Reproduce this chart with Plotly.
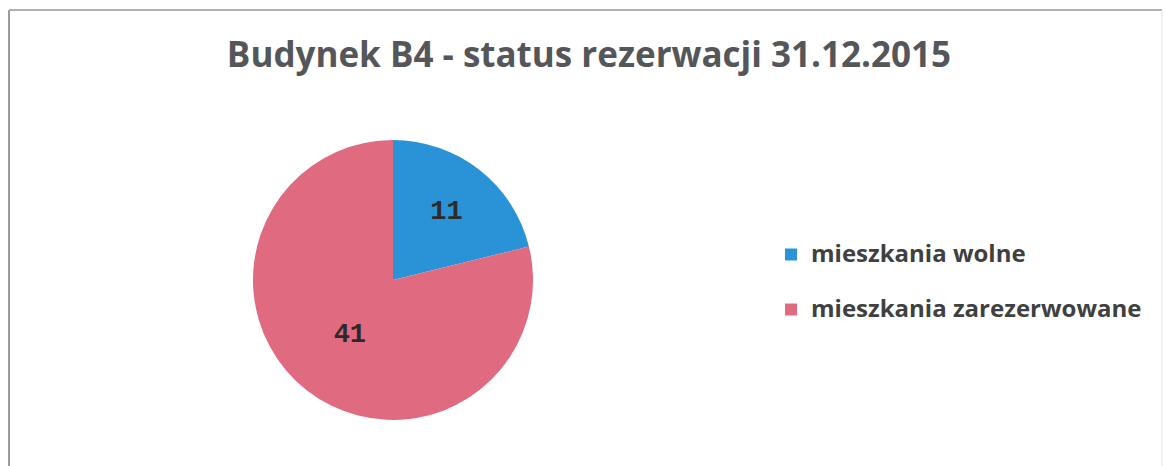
import plotly.graph_objects as go

categories = ["mieszkania wolne", "mieszkania zarezerwowane"]
values = [11, 41]
colors = ["#2a93d8", "#e06a80"]
title_text = "Budynek B4 - status rezerwacji 31.12.2015"

W, H = 1165, 466

def px_x(x):
    return x / W

def px_y(y):
    return 1 - y / H

legend_labels = ['<span style="font-size:24px">' + c + "</span><br> " for c in categories]

fig = go.Figure()
fig.add_trace(go.Pie(
    labels=legend_labels,
    values=values,
    marker=dict(colors=colors, line=dict(width=0)),
    sort=False,
    direction="clockwise",
    rotation=0,
    textinfo="value",
    textposition="inside",
    insidetextorientation="horizontal",
    textfont=dict(family="Liberation Mono, DejaVu Sans Mono, monospace", size=27, color="#2b2b2b", weight="bold"),
    domain=dict(x=[px_x(253), px_x(533)], y=[px_y(420), px_y(140)]),
    showlegend=True,
    hoverinfo="value",
))

fig.update_layout(
    width=W, height=H,
    margin=dict(l=0, r=0, t=0, b=0),
    paper_bgcolor="white",
    plot_bgcolor="white",
    title=dict(
        text="<b>" + title_text + "</b>",
        x=px_x(589), xanchor="center",
        y=px_y(55), yanchor="middle",
        font=dict(family="Open Sans, Liberation Sans, sans-serif", size=35, color="#55565a"),
    ),
    legend=dict(
        x=px_x(771), xanchor="left",
        y=px_y(235), yanchor="top",
        valign="top",
        font=dict(family="Open Sans, Liberation Sans, sans-serif", size=20, color="#404040", weight="bold"),
        itemwidth=30,
        bgcolor="rgba(0,0,0,0)",
    ),
    shapes=[
        dict(type="line", xref="paper", yref="paper", x0=px_x(9), x1=px_x(9), y0=0, y1=px_y(10),
             line=dict(color="#9a9a9a", width=2)),
        dict(type="line", xref="paper", yref="paper", x0=px_x(9), x1=px_x(1162), y0=px_y(10), y1=px_y(10),
             line=dict(color="#b0b0b0", width=2)),
        dict(type="line", xref="paper", yref="paper", x0=px_x(1162), x1=px_x(1162), y0=0, y1=px_y(10),
             line=dict(color="#e4e4e4", width=1)),
    ],
)

fig.write_html("out.html", config={"displayModeBar": False},
               post_script="document.body.style.margin='0';")
